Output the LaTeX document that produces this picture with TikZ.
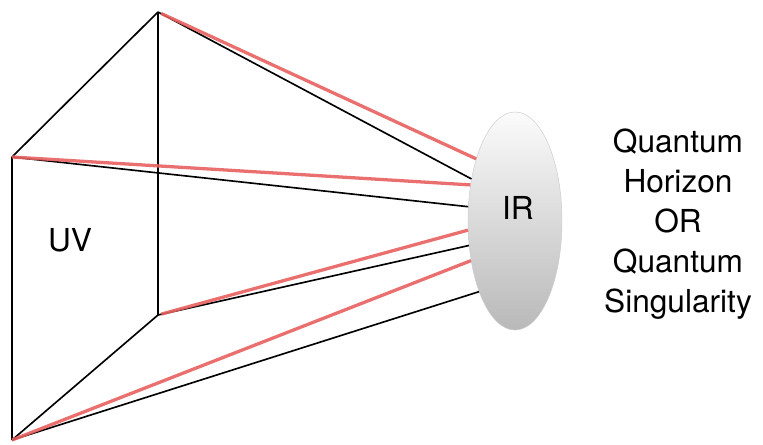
\documentclass[tikz,border=0pt]{standalone}
\usepackage{fontspec}
\setmainfont{TeX Gyre Heros}
\usepackage{tikz}
\usetikzlibrary{shapes.geometric, positioning, calc}
\definecolor{cR}{RGB}{232,96,96}

\begin{document}
\begin{tikzpicture}[x=0.03cm, y=-0.03cm,
                    edge/.style={black, line width=1.4pt},
                    ray/.style={cR, line width=2.8pt, opacity=0.9},
                    txt/.style={font=\fontsize{27}{34}\selectfont, align=center, inner sep=0pt}]
    \useasboundingbox (0,0) rectangle (763,444);

    % Corners of the box
    \coordinate (FT) at (12,157);
    \coordinate (FB) at (12,440);
    \coordinate (BT) at (158,12);
    \coordinate (BB) at (158,315);

    % Horizon
    \node[ellipse, draw=gray!40, inner sep=0pt, top color=gray!3, bottom color=gray!55,
          minimum width=2.82cm, minimum height=6.54cm] (IR) at (515,221) {};
    \node[txt] (IRtext) at (518,208) {IR};
    \node[txt] (UV) at (70,240) {UV};
    \node[txt] (QH) at (678,224) {Quantum\\Horizon\\OR\\Quantum\\Singularity};

    % Box
    \draw[edge] (FT) -- (FB) (BT) -- (BB) (FT) -- (BT) (FB) -- (BB);

    % Black rays
    \draw[edge] (BT) -- (IR.136);
    \draw[edge] (FT) -- (IR.163);
    \draw[edge] (BB) -- (IR.208);
    \draw[edge] (FB) -- (IR.243);

    % Red rays
    \draw[ray, shorten <=3pt] (BT) -- (IR.122);
    \draw[ray] (FT) -- (IR.141);
    \draw[ray, shorten <=3pt] (BB) -- (IR.191);
    \draw[ray] (FB) -- (IR.222);
\end{tikzpicture}
\end{document}
